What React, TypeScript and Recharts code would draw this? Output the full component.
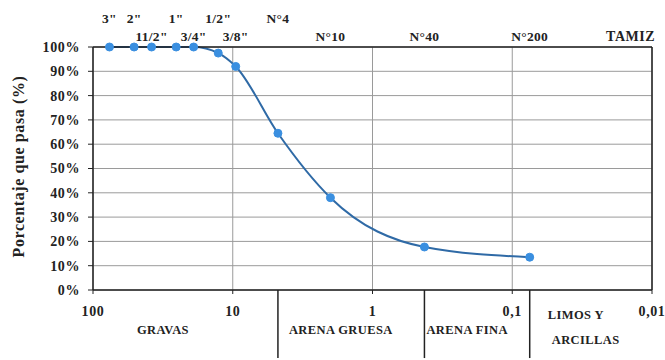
import {
  LineChart,
  Line,
  XAxis,
  YAxis,
  CartesianGrid,
  ReferenceLine,
  ReferenceArea,
} from 'recharts';

// Sieve analysis (curva granulométrica)
const sieveNames = ['3"', '2"', '11/2"', '1"', '3/4"', '1/2"', '3/8"', 'N°4', 'N°10', 'N°40', 'N°200'];
const sieveSizes = [76.2, 50.8, 38.1, 25.4, 19.05, 12.7, 9.525, 4.75, 2.0, 0.425, 0.075];
const percentPassing = [100, 100, 100, 100, 100, 97.5, 92, 64.5, 38, 17.7, 13.5];
// which row of the top labels each sieve name sits on
const sieveRow = [0, 0, 1, 0, 1, 0, 1, 0, 1, 1, 1];

const sizeTicks = [100, 10, 1, 0.1, 0.01];
const percentTicks = [0, 10, 20, 30, 40, 50, 60, 70, 80, 90, 100];

const zoneNames = [['GRAVAS'], ['ARENA GRUESA'], ['ARENA FINA'], ['LIMOS Y', 'ARCILLAS']];
const zoneBounds = [100, 4.75, 0.425, 0.075, 0.01];

const FONT = '"Liberation Serif", "Times New Roman", serif';
const INK = '#222';

const data = sieveSizes.map((size, i) => ({ size, pct: percentPassing[i] }));

function SieveTick(props: any) {
  const { x, y, payload } = props;
  const i = sieveSizes.indexOf(payload.value);
  const row = sieveRow[i] ?? 0;
  return (
    <text
      x={x}
      y={row === 0 ? y - 24 : y - 6}
      textAnchor="middle"
      fontFamily={FONT}
      fontWeight="bold"
      fontSize={13.5}
      letterSpacing={0.3}
      fill={INK}
    >
      {sieveNames[i]}
    </text>
  );
}

// label offsets inside each zone (px from the zone's left edge)
const zoneLabelDx = [[44], [11], [2], [18, 22]];
const zoneLabelDy = [[44], [44], [44], [29, 54]];

function zoneLabel(z: number) {
  return (props: any) => {
    const vb = props.viewBox || {};
    return (
      <g>
        {zoneNames[z].map((t, k) => (
          <text
            key={k}
            x={vb.x + zoneLabelDx[z][k]}
            y={vb.y + zoneLabelDy[z][k]}
            fontFamily={FONT}
            fontWeight="bold"
            fontSize={12.5}
            letterSpacing={0.4}
            fill={INK}
          >
            {t}
          </text>
        ))}
      </g>
    );
  };
}

function YTitle(props: any) {
  const vb = props.viewBox || {};
  const cx = 18;
  const cy = vb.y + vb.height / 2 - 2;
  return (
    <text
      x={cx}
      y={cy}
      transform={`rotate(-90 ${cx} ${cy})`}
      textAnchor="middle"
      dominantBaseline="central"
      fontFamily={FONT}
      fontWeight="bold"
      fontSize={16}
      letterSpacing={0.6}
      fill={INK}
    >
      Porcentaje que pasa (%)
    </text>
  );
}

function TamizLabel(props: any) {
  const vb = props.viewBox || {};
  return (
    <text
      x={vb.x + vb.width + 3}
      y={vb.y + vb.height - 6}
      textAnchor="end"
      fontFamily={FONT}
      fontWeight="bold"
      fontSize={14}
      letterSpacing={0.5}
      fill={INK}
    >
      TAMIZ
    </text>
  );
}

export default function App() {
  const tickStyle = { fontFamily: FONT, fontWeight: 'bold', fontSize: 14, fill: INK, letterSpacing: 0.6 };

  return (
    <div style={{ position: 'absolute', left: 0, top: 0, width: 665, height: 360, background: '#fff' }}>
      <LineChart width={665} height={360} data={data} margin={{ top: 0, right: 13, bottom: 0, left: 0 }}>
        <CartesianGrid stroke="#9a9a9a" strokeWidth={1} />
        <XAxis
          dataKey="size"
          type="number"
          scale="log"
          domain={[0.01, 100]}
          reversed
          allowDataOverflow
          ticks={sizeTicks}
          interval={0}
          height={70}
          tickSize={4}
          tickMargin={12}
          tickFormatter={(v: number) => String(v).replace('.', ',')}
          tick={tickStyle}
          stroke={INK}
          axisLine={{ stroke: INK, strokeWidth: 1.5 }}
        />
        <XAxis
          xAxisId="top"
          orientation="top"
          dataKey="size"
          type="number"
          scale="log"
          domain={[0.01, 100]}
          reversed
          allowDataOverflow
          ticks={sieveSizes}
          interval={0}
          height={47}
          tickSize={0}
          tickMargin={0}
          tick={<SieveTick />}
          axisLine={{ stroke: INK, strokeWidth: 1.5 }}
          label={<TamizLabel />}
        />
        <YAxis
          type="number"
          domain={[0, 100]}
          ticks={percentTicks}
          interval={0}
          width={93}
          tickSize={5}
          tickMargin={8}
          tickFormatter={(v: number) => `${v}%`}
          tick={tickStyle}
          stroke={INK}
          axisLine={{ stroke: INK, strokeWidth: 1.5 }}
          label={<YTitle />}
        />
        <ReferenceLine x={0.01} stroke={INK} strokeWidth={1.5} />
        {zoneBounds.slice(1, 4).map((b) => (
          <ReferenceLine
            key={b}
            segment={[
              { x: b, y: 0 },
              { x: b, y: -28 },
            ]}
            ifOverflow="visible"
            stroke={INK}
            strokeWidth={1.5}
          />
        ))}
        {zoneNames.map((_, z) => (
          <ReferenceArea
            key={z}
            x1={zoneBounds[z]}
            x2={zoneBounds[z + 1]}
            y1={0}
            y2={-28}
            ifOverflow="visible"
            fill="none"
            stroke="none"
            label={zoneLabel(z)}
          />
        ))}
        <Line
          type="monotone"
          dataKey="pct"
          stroke="#2f6aa6"
          strokeWidth={2}
          dot={{ r: 4, fill: '#3a8fe0', stroke: '#3a8fe0', strokeWidth: 1 }}
          isAnimationActive={false}
        />
      </LineChart>
    </div>
  );
}
